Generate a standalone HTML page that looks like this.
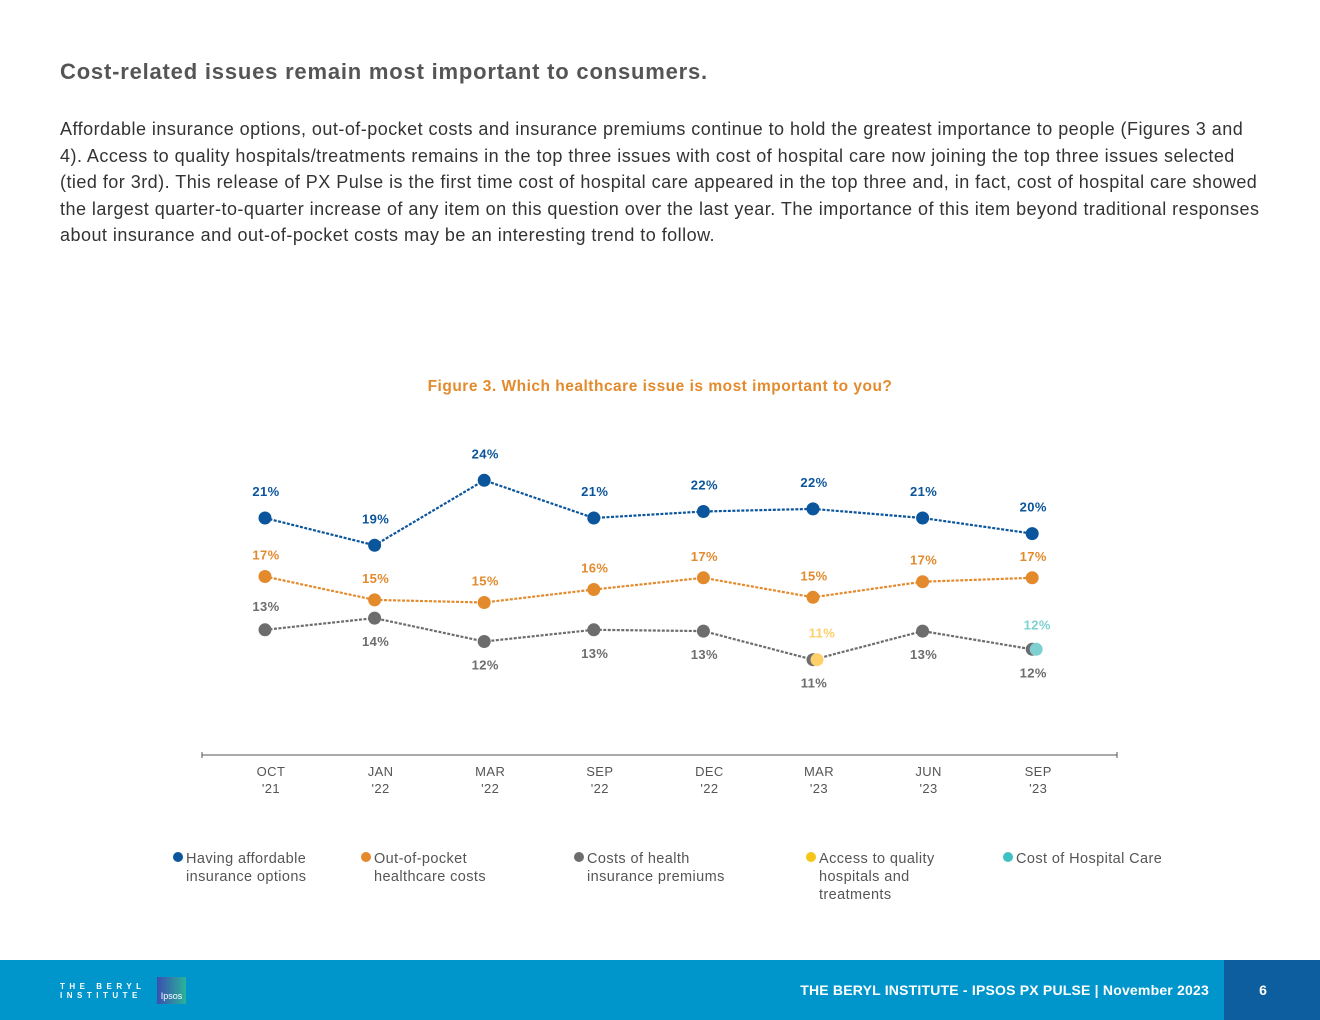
<!DOCTYPE html>
<html><head><meta charset="utf-8">
<style>
body{margin:0;width:1320px;height:1020px;position:relative;background:#fff;font-family:"Liberation Sans",sans-serif;overflow:hidden}
.h{position:absolute;left:60px;top:59px;font-size:22px;font-weight:bold;color:#555;letter-spacing:0.8px;white-space:nowrap}
.p{position:absolute;left:60px;top:116px;width:1240px;font-size:18px;line-height:26.5px;color:#333;letter-spacing:0.47px;white-space:nowrap}
.ft{position:absolute;left:0;top:960px;width:1320px;height:60px;background:#0096cc}
.pg{position:absolute;left:1224px;top:960px;width:78px;height:60px;padding-right:18px;background:#0d5e9e;color:#fff;font-weight:bold;font-size:14px;text-align:center;line-height:60px}
.ftt{position:absolute;right:111px;top:960px;line-height:60px;color:#fff;font-size:14px;font-weight:bold;letter-spacing:0.2px}
</style></head><body>
<div class="h">Cost-related issues remain most important to consumers.</div>
<div class="p">Affordable insurance options, out-of-pocket costs and insurance premiums continue to hold the greatest importance to people (Figures 3 and<br>4). Access to quality hospitals/treatments remains in the top three issues with cost of hospital care now joining the top three issues selected<br>(tied for 3rd). This release of PX Pulse is the first time cost of hospital care appeared in the top three and, in fact, cost of hospital care showed<br>the largest quarter-to-quarter increase of any item on this question over the last year. The importance of this item beyond traditional responses<br>about insurance and out-of-pocket costs may be an interesting trend to follow.</div>
<svg id="chart" width="1320" height="960" style="position:absolute;left:0;top:0">
<text x="660" y="391" text-anchor="middle" font-size="15.5" font-weight="bold" fill="#e38a2d" letter-spacing="0.5">Figure 3. Which healthcare issue is most important to you?</text>
<line x1="202" y1="755" x2="1117" y2="755" stroke="#555" stroke-width="1"/>
<line x1="202" y1="752" x2="202" y2="758" stroke="#555"/>
<line x1="1117" y1="752" x2="1117" y2="758" stroke="#555"/>
<g id="plot"></g>
</svg>
<div class="ft"></div>
<div style="position:absolute;left:60px;top:982px;color:#fff;font-size:8px;font-weight:bold;letter-spacing:4.5px;line-height:9px">THE BERYL<br>INSTITUTE</div>
<div style="position:absolute;left:157px;top:977px;width:29px;height:27px;background:linear-gradient(90deg,#3b4fb0,#2bb39a);color:#fff;font-size:9px;line-height:38px;text-align:center">Ipsos</div>
<div class="ftt">THE BERYL INSTITUTE - IPSOS PX PULSE | November 2023</div>
<div class="pg">6</div>
<script>
const categories=["OCT|'21","JAN|'22","MAR|'22","SEP|'22","DEC|'22","MAR|'23","JUN|'23","SEP|'23"];
const affordable=[21.0,18.9,23.9,21.0,21.5,21.7,21.0,19.8];
const affordableLabels=["21%","19%","24%","21%","22%","22%","21%","20%"];
const outOfPocket=[16.5,14.7,14.5,15.5,16.4,14.9,16.1,16.4];
const outOfPocketLabels=["17%","15%","15%","16%","17%","15%","17%","17%"];
const premiums=[12.4,13.3,11.5,12.4,12.3,10.1,12.3,10.9];
const premiumsLabels=["13%","14%","12%","13%","13%","11%","13%","12%"];
const premiumsLabelSide=["above","below","below","below","below","below","below","below"];
const accessIndex=5, accessValue=10.1, accessLabel="11%";
const hospitalIndex=7, hospitalValue=10.9, hospitalLabel="12%";
const legendNames=[["Having affordable","insurance options"],["Out-of-pocket","healthcare costs"],["Costs of health","insurance premiums"],["Access to quality","hospitals and","treatments"],["Cost of Hospital Care"]];
const legendColors=["#0b559c","#e38a2d","#6d6d6d","#f5c518","#3ec1c1"];

const NS="http://www.w3.org/2000/svg";
const g=document.getElementById('plot');
const svg=document.getElementById('chart');
function x(i){return 265+i*109.6;}
function y(v){return 518-(v-21)*13;}
function mk(t,a,p){const e=document.createElementNS(NS,t);for(const k in a)e.setAttribute(k,a[k]);(p||g).appendChild(e);return e;}
function txt(s,xx,yy,c,size,w){const e=mk('text',{x:xx,y:yy,'text-anchor':'middle','font-size':size||13,'font-weight':w||'bold',fill:c,'letter-spacing':0.4});e.textContent=s;return e;}
function series(vals,labels,color,name,side,off){
  const pts=vals.map((v,i)=>x(i)+','+y(v)).join(' ');
  const l=mk('polyline',{points:pts,fill:'none',stroke:color,'stroke-width':2.2,'stroke-dasharray':'3 1.5'});
  
  
  vals.forEach((v,i)=>{
    const c=mk('circle',{cx:x(i),cy:y(v),r:6.5,fill:color});
    
    
    const s=side?side[i]:'above';
    const ly=s==='above'?y(v)-off:y(v)+off+9;
    const t=txt(labels[i],x(i)+1,ly,color);
    
    
  });
}
series(affordable,affordableLabels,"#0b559c","affordable",null,22);
series(outOfPocket,outOfPocketLabels,"#e38a2d","out-of-pocket",null,17);
series(premiums,premiumsLabels,"#6d6d6d","premiums",premiumsLabelSide,19);
let c=mk('circle',{cx:x(accessIndex)+4,cy:y(accessValue),r:6.5,fill:"#fdd06a"});


let t=txt(accessLabel,x(accessIndex)+9,y(accessValue)-22,"#fdd06a");


c=mk('circle',{cx:x(hospitalIndex)+4,cy:y(hospitalValue),r:6.5,fill:"#7fd0d0"});


t=txt(hospitalLabel,x(hospitalIndex)+5,y(hospitalValue)-20,"#7fd0d0");


categories.forEach((cat,i)=>{
  const [a,b]=cat.split('|');
  const t1=txt(a,x(i)+6,776,"#555",13,'normal');
  
  
  const t2=txt(b,x(i)+6,793,"#555",13,'normal');
  
  
});
const lx=[178,366,579,811,1008];
legendNames.forEach((lines,i)=>{
  const lg=mk('g',{},svg);
  
  
  mk('circle',{cx:lx[i],cy:857,r:5,fill:legendColors[i]},lg);
  lines.forEach((ln,j)=>{
    const e=mk('text',{x:lx[i]+8,y:863+j*18,'font-size':14.5,fill:'#555','letter-spacing':0.4},lg);
    e.textContent=ln;
  });
});
</script>
</body></html>
